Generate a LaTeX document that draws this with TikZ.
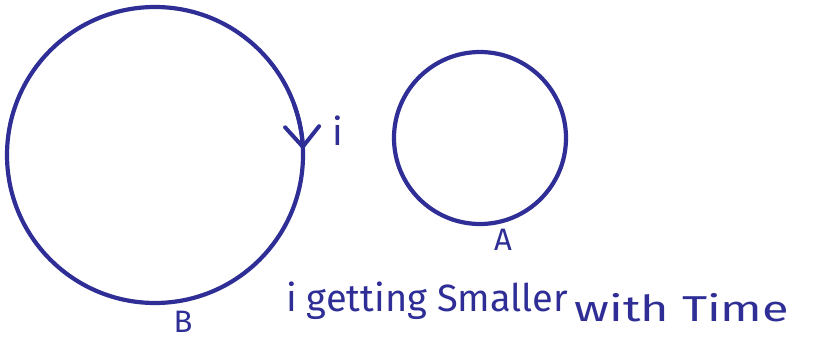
\documentclass[tikz,border=0pt]{standalone}
\usepackage{fontspec}
\setmainfont{Fira Sans}
\usepackage{tikz}
\usepackage{xcolor}
\usetikzlibrary{arrows.meta}

\definecolor{inkblue}{RGB}{46,46,150}

\begin{document}
\begin{tikzpicture}[x=1pt,y=1pt,
    ring/.style={circle,draw=inkblue,line width=4.2pt,inner sep=0pt,outer sep=0pt},
    hand/.style={text=inkblue,inner sep=0pt}]
    \useasboundingbox (0,0) rectangle (815,343);

    % Circles
    \node[ring,minimum size=296pt] (B) at (155,188) {};
    \node[ring,minimum size=172pt] (A) at (480,205) {};

    % Direction of current
    \draw[inkblue,line width=4pt,line cap=round,-{Straight Barb[length=20pt,width=34pt,line cap=round]}]
        (B.20) arc[start angle=20,end angle=2,radius=148];

    % Labels
    \node[hand,font=\fontsize{38}{44}\selectfont] (i) at (338,212) {i};
    \node[hand,font=\fontsize{31}{36}\selectfont] (labB) at (183,21) {B};
    \node[hand,font=\fontsize{31}{36}\selectfont] (labA) at (503,103) {A};

    % Caption
    \node[hand,anchor=base west,font=\fontsize{38}{44}\selectfont] (cap1) at (286,31) {i getting Smaller};
    \node[hand,anchor=base west,xscale=1.35,font=\fontsize{36}{42}\selectfont] (cap2) at ([xshift=6pt,yshift=-10pt]cap1.base east) {with Time};
\end{tikzpicture}
\end{document}
